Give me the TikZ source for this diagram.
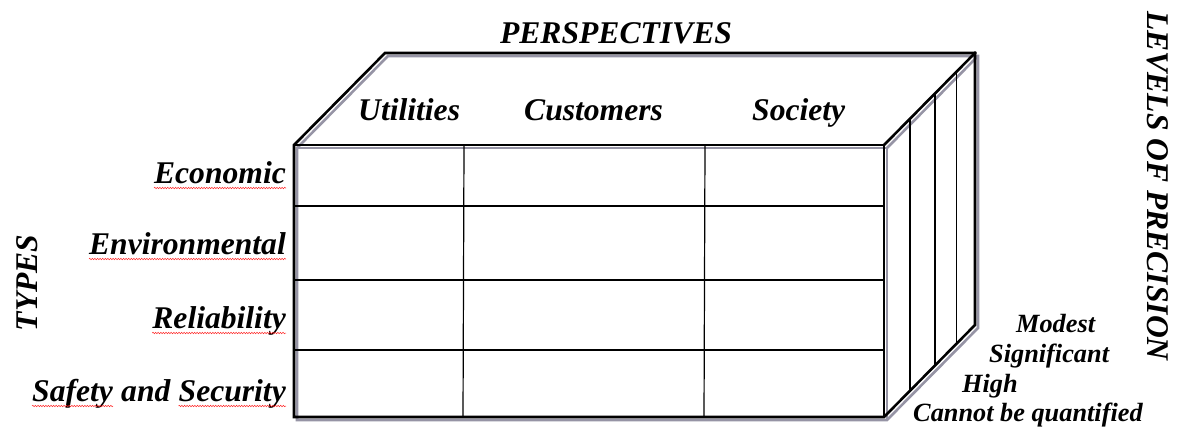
\documentclass[tikz,border=0pt]{standalone}
\usepackage{fontspec}
\setmainfont{Liberation Serif}
\usetikzlibrary{calc,decorations.pathmorphing}
\definecolor{shadowgray}{RGB}{150,148,165}
\tikzset{
  edge/.style={line width=2.6pt,line join=miter,line cap=rect},
  shadowline/.style={line width=2.6pt,draw=shadowgray,line join=miter},
  gridline/.style={line width=1.2pt},
  lbl/.style={font=\bfseries\itshape\fontsize{31.6}{31.6}\selectfont,inner sep=0pt},
  smalllbl/.style={font=\bfseries\itshape\fontsize{26.3}{26.3}\selectfont,inner sep=0pt},
  squiggle/.style={draw=red!85,line width=0.5pt,decorate,decoration={snake,amplitude=0.7pt,segment length=2.6pt}}
}
\begin{document}
\begin{tikzpicture}[x=1pt,y=-1pt]
\useasboundingbox[fill=white] (0,0) rectangle (1177,432);
% corners
\coordinate (A) at (294,145);
\coordinate (B) at (884,145);
\coordinate (C) at (884,417);
\coordinate (D) at (294,417);
\coordinate (E) at (385,53);
\coordinate (F) at (975,53);
\coordinate (G) at (975,325);
% shadow
\begin{scope}[transform canvas={shift={(3pt,-3pt)}}]
  \draw[shadowline] (A) -- (E) -- (F) -- (G) -- (C) -- (D) -- cycle;
  \draw[shadowline] (A) -- (B) -- (C);
  \draw[shadowline] (B) -- (F);
\end{scope}
% front grid
\draw[gridline] (294,206) -- (884,206);
\draw[gridline] (294,280) -- (884,280);
\draw[gridline] (294,350) -- (884,350);
\draw[gridline] (464,145) -- (463,417);
\draw[gridline] (705,145) -- (704,417);
% side grid
\foreach \t in {0.286,0.56,0.80}{
  \draw[gridline] ($(B)!\t!(F)$) -- ($(C)!\t!(G)$);
}
% outlines
\draw[edge] (A) -- (E) -- (F) -- (G) -- (C) -- (D) -- cycle;
\draw[edge] (A) -- (B) -- (C);
\draw[edge] (B) -- (F);
% top labels
\node[lbl,anchor=base] (persp) at (616,43) {PERSPECTIVES};
\node[lbl,anchor=base west] (util) at (358,120) {Utilities};
\node[lbl,anchor=base west] (cust) at (524,120) {Customers};
\node[lbl,anchor=base west] (soc) at (752,120) {Society};
% type labels
\node[lbl,anchor=base east] (eco) at (286,183) {Economic};
\node[lbl,anchor=base east] (env) at (286,254) {Environmental};
\node[lbl,anchor=base east] (rel) at (286,328) {Reliability};
\node[lbl,anchor=base east] (sec) at (286,401) {Security};
\node[lbl,anchor=base east] (and) at ($(sec.base west)+(-7.9,0)$) {and};
\node[lbl,anchor=base east] (saf) at ($(and.base west)+(-7.9,0)$) {Safety};
\node[lbl,rotate=90] (types) at (27,283) {TYPES};
% spelling squiggles
\draw[squiggle] ($(eco.base west)+(0,5)$) -- ($(eco.base east)+(0,5)$);
\draw[squiggle] ($(env.base west)+(0,5)$) -- ($(env.base east)+(0,5)$);
\draw[squiggle] ($(rel.base west)+(0,5)$) -- ($(rel.base east)+(0,5)$);
\draw[squiggle] ($(saf.base west)+(0,5)$) -- ($(saf.base east)+(0,5)$);
\draw[squiggle] ($(sec.base west)+(0,5)$) -- ($(sec.base east)+(0,5)$);
% precision labels
\node[smalllbl,anchor=base west] (mod) at (1016,332) {Modest};
\node[smalllbl,anchor=base west] (sig) at (989,362) {Significant};
\node[smalllbl,anchor=base west] (hig) at (962,392) {High};
\node[smalllbl,anchor=base west] (cbq) at (913,421) {Cannot be quantified};
\node[lbl,rotate=-90] (lev) at (1158,186) {LEVELS OF PRECISION};
\end{tikzpicture}
\end{document}
